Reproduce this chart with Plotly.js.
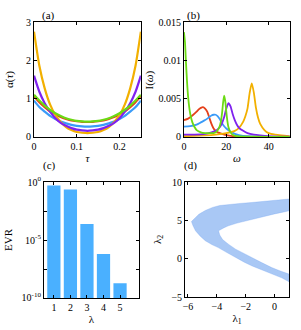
<!DOCTYPE html>
<html><head><meta charset="utf-8">
<script src="https://cdn.plot.ly/plotly-3.0.1.min.js"></script>
<style>html,body{margin:0;padding:0;background:#fff}#plot{width:301px;height:330px}</style>
</head><body><div id="plot"></div>
<script>
// Panel (a): alpha(tau)
const tau = [0,0.0125,0.025,0.0375,0.05,0.0625,0.075,0.0875,0.1,0.1125,0.125,0.1375,0.15,0.1625,0.175,0.1875,0.2,0.2125,0.225,0.2375,0.25];
const aOrange = [2.75,1.86,1.27,0.85,0.57,0.39,0.26,0.18,0.13,0.11,0.10,0.11,0.13,0.18,0.26,0.39,0.57,0.85,1.27,1.86,2.75];
const aPurple = [1.60,1.18,0.88,0.66,0.49,0.37,0.29,0.23,0.19,0.17,0.16,0.17,0.19,0.23,0.29,0.37,0.49,0.66,0.88,1.18,1.60];
const aBlue   = [0.95,0.78,0.66,0.55,0.47,0.40,0.355,0.315,0.29,0.275,0.27,0.275,0.29,0.315,0.355,0.40,0.47,0.55,0.66,0.78,0.95];
const aRed    = [1.07,0.91,0.78,0.67,0.59,0.52,0.47,0.43,0.41,0.395,0.39,0.395,0.41,0.43,0.47,0.52,0.59,0.67,0.78,0.91,1.07];
const aGreen  = [1.10,0.95,0.82,0.71,0.62,0.55,0.49,0.45,0.42,0.405,0.40,0.405,0.42,0.45,0.49,0.55,0.62,0.71,0.82,0.95,1.10];

// Panel (b): I(omega)
const wRed = [0,2,4,6,7,8,9,10,11,12,13,14,15,16,18,20,23,26,30,40,50];
const iRed = [0.0022,0.0024,0.0028,0.0033,0.0036,0.0038,0.0039,0.0037,0.0033,0.0025,0.0017,0.0011,0.0008,0.0006,0.0004,0.00025,0.00012,0.00006,0.00003,0.00001,0];
const wBlue = [0,3,6,8,10,12,13,14,15,16,17,18,19,20,22,24,26,30,35,40,50];
const iBlue = [0.00135,0.0014,0.0016,0.0019,0.0022,0.0026,0.0028,0.0029,0.0029,0.0027,0.0023,0.0018,0.0014,0.0011,0.0007,0.0004,0.00025,0.0001,0.00005,0.00002,0.00001];
const wOrange = [0,10,15,20,24,26,28,29,30,31,32,33,34,35,36,38,40,43,46,50];
const iOrange = [0.0001,0.0002,0.0003,0.0005,0.0008,0.0012,0.0020,0.0027,0.0037,0.0057,0.0070,0.0058,0.0038,0.0025,0.0017,0.0009,0.0005,0.0003,0.0002,0.0001];
const wPurple = [0,5,10,13,15,17,18,19,20,21,22,23,24,25,26,28,30,33,36,40,45,50];
const iPurple = [0.0003,0.0003,0.0004,0.0006,0.0008,0.0013,0.0018,0.0026,0.0037,0.0044,0.0040,0.0030,0.0022,0.0016,0.0012,0.0008,0.0005,0.0003,0.0002,0.0001,0.00005,0.00003];
const wGreen = [0,0.5,1,1.5,2,2.5,3,4,5,6,8,10,12,14,15,16,17,17.5,18,18.5,19,19.5,20,20.5,21,22,23,25,30,40,50];
const iGreen = [0.0137,0.0124,0.0096,0.0071,0.0052,0.0039,0.0030,0.0019,0.0013,0.0009,0.0006,0.0005,0.0005,0.0005,0.0006,0.0009,0.0015,0.0021,0.0031,0.0045,0.0054,0.0047,0.0033,0.0021,0.0013,0.0006,0.0003,0.0001,0.00005,0.00002,0.00001];

// Panel (c): explained variance ratio
const lambdaIdx = [1,2,3,4,5];
const evr = [0.52,0.23,2.5e-4,6.3e-7,1.8e-9];
const evrTickVals = [1e-10,1e-5,1];
const evrTickText = ['10<sup>-10</sup>','10<sup>-5</sup>','10<sup>0</sup>'];
const evrMinorVals = [3.1623e-8,3.1623e-3];

// Panel (d): outline of the sampled (lambda1, lambda2) region
const regionL1 = [1.0,0.3,-0.2,-0.9,-1.6,-2.4,-3.2,-3.8,-4.3,-4.8,-5.25,-5.55,-5.76,-5.65,-5.48,-5.15,-4.8,-4.35,-3.9,-3.3,-2.7,-2.1,-1.55,-0.8,0.0,0.5,1.0,1.0,0.4,-0.2,-0.9,-1.6,-2.2,-2.7,-3.2,-3.6,-3.8,-3.88,-3.5,-3.2,-2.6,-2.0,-1.3,-0.65,0.0,0.5,1.0,1.0];
const regionL2 = [7.8,7.65,7.56,7.45,7.34,7.22,7.1,6.95,6.7,6.3,5.8,5.3,4.85,4.3,3.65,2.95,2.35,1.85,1.45,0.8,0.15,-0.45,-0.95,-1.5,-2.05,-2.5,-3.0,-2.0,-1.6,-1.15,-0.5,0.15,0.7,1.25,1.9,2.5,3.1,3.65,4.05,4.3,4.65,4.95,5.3,5.6,5.85,6.05,6.25,7.8];

const C = {orange:'#F2B000', purple:'#7F22EE', blue:'#3A9BF8', red:'#E5401A', green:'#6BDA14'};
const FONT = '"Liberation Serif", "Times New Roman", serif';

function lineTrace(x, y, color, xa, ya, w) {
  return {x:x, y:y, type:'scatter', mode:'lines', line:{color:color, width:w, shape:'spline', smoothing:0.6},
          xaxis:xa, yaxis:ya, showlegend:false, hoverinfo:'skip'};
}

const data = [
  lineTrace(tau, aRed, C.red, 'x', 'y', 2.2),
  lineTrace(tau, aBlue, C.blue, 'x', 'y', 2.2),
  lineTrace(tau, aOrange, C.orange, 'x', 'y', 2.2),
  lineTrace(tau, aPurple, C.purple, 'x', 'y', 2.2),
  lineTrace(tau, aGreen, C.green, 'x', 'y', 2.2),
  lineTrace(wRed, iRed, C.red, 'x2', 'y2', 1.8),
  lineTrace(wBlue, iBlue, C.blue, 'x2', 'y2', 1.8),
  lineTrace(wOrange, iOrange, C.orange, 'x2', 'y2', 1.8),
  lineTrace(wPurple, iPurple, C.purple, 'x2', 'y2', 1.8),
  lineTrace(wGreen, iGreen, C.green, 'x2', 'y2', 1.8),
  {x:lambdaIdx, y:evr, type:'bar', width:0.8, marker:{color:'#4AB0FF', line:{width:0}},
   xaxis:'x3', yaxis:'y3', showlegend:false, hoverinfo:'skip', base: 1e-10},
  {x:regionL1, y:regionL2, type:'scatter', mode:'lines', fill:'toself', line:{width:0.6, color:'rgba(110,160,240,0.5)'},
   fillcolor:'#A9C8F5',
   xaxis:'x4', yaxis:'y4', showlegend:false, hoverinfo:'skip'}
];

function ax(extra) {
  return Object.assign({
    showline:true, linecolor:'#000', linewidth:1, mirror:'ticks', ticks:'inside', ticklen:3,
    tickwidth:1, tickcolor:'#000', showgrid:false, zeroline:false,
    tickfont:{family:FONT, size:10, color:'#000'}
  }, extra);
}
const tf = {family:FONT, size:11, color:'#000'};

function yTitle(text, px, py, anchor) {
  return {text:text, x:px/301, y:1-py/330, xref:'paper', yref:'paper', showarrow:false,
          textangle:-90, font:tf, xanchor:anchor, yanchor:'middle'};
}
function panelLabel(text, px, py) {
  return {text:text, x:px/301, y:1-py/330, xref:'paper', yref:'paper', showarrow:false, font:tf};
}

const layout = {
  width:301, height:330, margin:{l:0,r:0,t:0,b:0}, paper_bgcolor:'#fff', plot_bgcolor:'#fff',
  font:{family:FONT, size:10, color:'#000'},
  xaxis: ax({domain:[0.113,0.468], anchor:'y', range:[0,0.25], tickvals:[0,0.1,0.2], ticktext:['0','0.1','0.2'],
            title:{text:'<i>τ</i>', font:tf, standoff:3}}),
  yaxis: ax({domain:[0.585,0.933], anchor:'x', range:[0,3], tickvals:[0,1,2,3]}),
  xaxis2: ax({domain:[0.611,0.963], anchor:'y2', range:[0,50], tickvals:[0,20,40],
            title:{text:'<i>ω</i>', font:tf, standoff:3}}),
  yaxis2: ax({domain:[0.585,0.933], anchor:'x2', range:[0,0.015], tickvals:[0,0.005,0.01,0.015], ticktext:['0','0.005','0.01','0.015']}),
  xaxis3: ax({domain:[0.146,0.462], anchor:'y3', range:[0.4,6.15], tickvals:[1,2,3,4,5],
            title:{text:'λ', font:tf, standoff:1}}),
  yaxis3: ax({domain:[0.097,0.448], anchor:'x3', type:'log', range:[-10,0], tickvals:evrTickVals, ticktext:evrTickText,
            minor:{tickvals:evrMinorVals, ticks:'inside', ticklen:3, tickcolor:'#000', showgrid:false}}),
  xaxis4: ax({domain:[0.615,0.960], anchor:'y4', range:[-6.2,1.0], tickvals:[-6,-4,-2,0],
            title:{text:'λ<sub>1</sub>', font:tf, standoff:1}}),
  yaxis4: ax({domain:[0.100,0.448], anchor:'x4', range:[-5,10], tickvals:[-5,0,5,10]}),
  annotations: [
    panelLabel('(a)', 40, 7), panelLabel('(b)', 193, 7),
    panelLabel('(c)', 41, 165), panelLabel('(d)', 190, 165),
    yTitle('α(<i>τ</i>)', 9, 80, 'center'),
    yTitle('I(<i>ω</i>)', 157, 80, 'right'),
    yTitle('EVR', 8, 240, 'center'),
    yTitle('λ<sub>2</sub>', 167, 240, 'right')
  ]
};

Plotly.newPlot('plot', data, layout, {displayModeBar:false, staticPlot:true});
</script>
</body></html>
